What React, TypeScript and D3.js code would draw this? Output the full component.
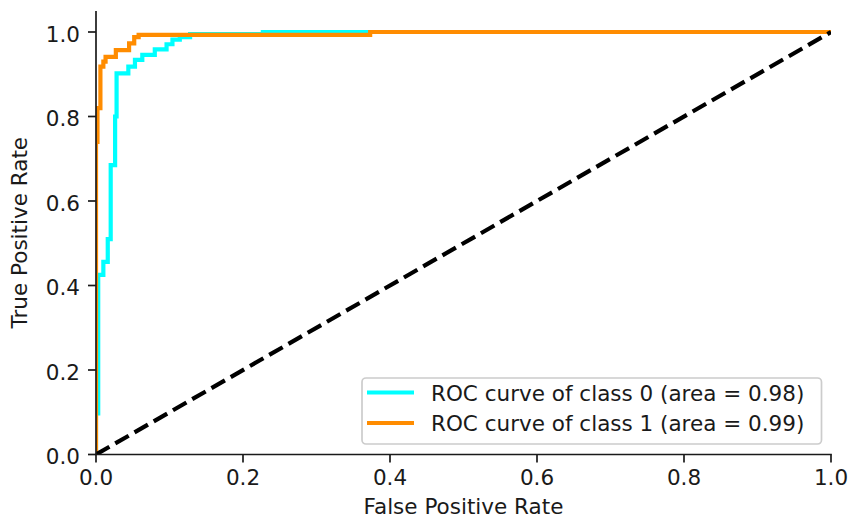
import React from "react";
import { scaleLinear, line, format } from "d3";

// ROC corner points
const fprClass0 = [0, 0, 0.003, 0.003, 0.010, 0.010, 0.016, 0.016, 0.020, 0.020, 0.026, 0.026, 0.028, 0.028, 0.044, 0.044, 0.053, 0.053, 0.063, 0.063, 0.080, 0.080, 0.096, 0.096, 0.104, 0.104, 0.114, 0.114, 0.128, 0.128, 0.227, 0.227, 1];
const tprClass0 = [0, 0.097, 0.097, 0.425, 0.425, 0.456, 0.456, 0.51, 0.51, 0.685, 0.685, 0.80, 0.80, 0.902, 0.902, 0.918, 0.918, 0.934, 0.934, 0.946, 0.946, 0.959, 0.959, 0.971, 0.971, 0.982, 0.982, 0.988, 0.988, 0.995, 0.995, 1, 1];

const fprClass1 = [0, 0, 0.002, 0.002, 0.006, 0.006, 0.010, 0.010, 0.013, 0.013, 0.027, 0.027, 0.045, 0.045, 0.052, 0.052, 0.058, 0.058, 0.373, 0.373, 1];
const tprClass1 = [0, 0.74, 0.74, 0.82, 0.82, 0.918, 0.918, 0.93, 0.93, 0.941, 0.941, 0.957, 0.957, 0.973, 0.973, 0.988, 0.988, 0.993, 0.993, 1, 1];

const seriesNames = ["ROC curve of class 0 (area = 0.98)", "ROC curve of class 1 (area = 0.99)"];
const seriesColors = ["#00ffff", "#ff8c00"];
const tickValues = [0, 0.2, 0.4, 0.6, 0.8, 1.0];

const W = 851;
const H = 523;
const FONT = "'DejaVu Sans', sans-serif";
const FS = 21.5;
const INK = "#1a1a1a";

export default function App() {
  const x = scaleLinear().domain([0, 1]).range([96, 831]);
  const y = scaleLinear().domain([0, 1.05]).range([454.5, 454.5 - 1.05 * 422.5]);
  const fmt = format(".1f");

  const path = line<number[]>()
    .x((d) => x(d[0]))
    .y((d) => y(d[1]));

  const series = [
    { pts: fprClass0.map((f, i) => [f, tprClass0[i]]), color: seriesColors[0], name: seriesNames[0] },
    { pts: fprClass1.map((f, i) => [f, tprClass1[i]]), color: seriesColors[1], name: seriesNames[1] },
  ];

  const [x0, x1] = x.range();
  const [yb, yt] = y.range();

  // legend box (lower right)
  const lgRight = x1 - 9.5;
  const lgBottom = yb - 10.5;
  const lgLeft = 362;
  const lgTop = 378;
  const rowY = [392.5, 423];

  return (
    <svg width={W} height={H} style={{ position: "absolute", left: 0, top: 0, background: "#fff" }}
      fontFamily={FONT} fontSize={FS}>
      <defs>
        <clipPath id="plotArea">
          <rect x={x0} y={yt} width={x1 - x0} height={yb - yt} />
        </clipPath>
      </defs>

      <g clipPath="url(#plotArea)">
        {series.map((s) => (
          <path key={s.name} d={path(s.pts) || ""} fill="none" stroke={s.color} strokeWidth={4.2} />
        ))}
        <path d={path([[0, 0], [1, 1]]) || ""} fill="none" stroke="#000" strokeWidth={4.2}
          strokeDasharray="15.5,6.7" />
      </g>

      {/* spines */}
      <line x1={x0} x2={x0} y1={yt} y2={yb} stroke={INK} strokeWidth={1.7} />
      <line x1={x0 - 0.85} x2={x1 + 0.85} y1={yb} y2={yb} stroke={INK} strokeWidth={1.7} />

      {/* y ticks */}
      {tickValues.map((t) => (
        <g key={"y" + t}>
          <line x1={x0 - 8} x2={x0} y1={y(t)} y2={y(t)} stroke={INK} strokeWidth={1.7} />
          <text x={x0 - 16} y={y(t) + 9.5} textAnchor="end" fill={INK}>{fmt(t)}</text>
        </g>
      ))}

      {/* x ticks */}
      {tickValues.map((t) => (
        <g key={"x" + t}>
          <line x1={x(t)} x2={x(t)} y1={yb} y2={yb + 8} stroke={INK} strokeWidth={1.7} />
          <text x={x(t)} y={yb + 30.5} textAnchor="middle" fill={INK}>{fmt(t)}</text>
        </g>
      ))}

      <text x={(x0 + x1) / 2} y={514} textAnchor="middle" fill={INK}>False Positive Rate</text>
      <text transform={`translate(27, ${(yt + yb) / 2}) rotate(-90)`} textAnchor="middle" fill={INK}>
        True Positive Rate
      </text>

      {/* legend */}
      <rect x={lgLeft} y={lgTop} width={lgRight - lgLeft} height={lgBottom - lgTop} rx={4}
        fill="#fff" fillOpacity={0.8} stroke="#cccccc" strokeWidth={1.7} />
      {series.map((s, i) => (
        <g key={"lg" + i}>
          <line x1={lgLeft + 5} x2={lgLeft + 52} y1={rowY[i]} y2={rowY[i]} stroke={s.color} strokeWidth={4.2} />
          <text x={lgLeft + 69} y={rowY[i] + 8} fill={INK}>{s.name}</text>
        </g>
      ))}
    </svg>
  );
}
